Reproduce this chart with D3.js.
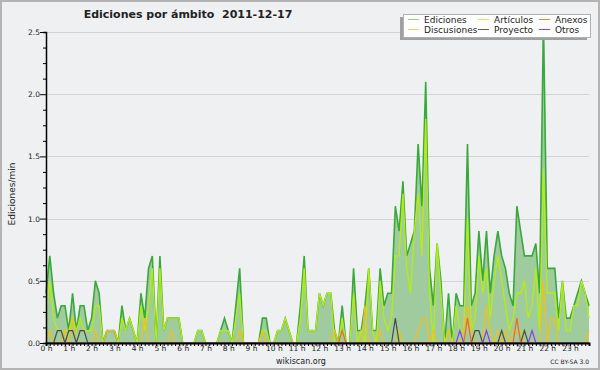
<!DOCTYPE html>
<html><head><meta charset="utf-8">
<script src="https://cdn.jsdelivr.net/npm/d3@7"></script>
<style>
html,body{margin:0;padding:0;background:#eff0f2;}
svg{display:block;}
text{font-family:"DejaVu Sans",sans-serif;fill:#222;}
</style></head>
<body>
<svg id="c" width="600" height="370"></svg>
<script>
// 10-minute slots, 0:00 .. 23:50
const hourLabels = d3.range(24).map(h => h + " h");
const ediciones = [0.4,0.7,0.4,0.2,0.3,0.3,0.1,0.4,0.1,0.3,0.3,0.1,0.2,0.5,0.4,0,0.1,0.1,0.1,0,
 0.3,0.1,0.2,0.1,0,0.4,0.2,0.6,0.7,0,0.7,0.1,0.2,0.2,0.2,0.2,0,0,0,0,
 0.1,0.1,0,0,0,0,0.1,0.2,0.1,0,0.3,0.6,0,0,0,0,0,0.2,0.2,0,
 0,0.1,0.1,0.2,0.1,0,0,0.3,0.7,0.1,0.1,0.1,0.4,0.3,0.4,0.4,0.1,0,0.3,0,
 0,0.6,0.1,0.1,0.3,0.6,0.1,0.1,0.6,0.3,0.4,0.4,1.1,0.9,1.3,0.7,0.8,0.9,1.6,1.1,
 2.1,0.6,0.3,0.8,0.5,0,0.4,0,0.4,0.3,0.3,1.6,0.3,0.4,0.9,0.5,0.9,0.4,0.7,0.9,
 0.7,0.6,0.4,0.3,1.1,0.9,0.7,0.7,0.7,0.8,0.4,2.6,0.6,0.6,0.6,0.2,0.5,0.2,0.2,0.3,
 0.4,0.5,0.4,0.3];
const articulos = [0.2,0.5,0.2,0.1,0.1,0.1,0.1,0.2,0.1,0.2,0.1,0.1,0.1,0.3,0.3,0,0,0,0,0,
 0.2,0.1,0.2,0.1,0,0.3,0.1,0.3,0.6,0,0.6,0.1,0.2,0.2,0.2,0.2,0,0,0,0,
 0.1,0.1,0,0,0,0,0.1,0.1,0.1,0,0.2,0.4,0,0,0,0,0,0.1,0.1,0,
 0,0.1,0.1,0.2,0.1,0,0,0.2,0.6,0.1,0.1,0.1,0.4,0.3,0.4,0.4,0,0,0.2,0,
 0,0.4,0,0.1,0,0.6,0.1,0,0.5,0.2,0.1,0.2,0.7,0.7,1.2,0.6,0.4,0.9,1.2,0.7,
 1.8,0.4,0,0.8,0.4,0,0.1,0,0.3,0.1,0.1,1.0,0.1,0.2,0.7,0.4,0.6,0.2,0.5,0.7,
 0.5,0.3,0.1,0.2,0.4,0.4,0.5,0.2,0.3,0.6,0.1,1.4,0.4,0.4,0.4,0.1,0.5,0.1,0.1,0.3,
 0.3,0.5,0.4,0.2];
const discusiones = [0,0.1,0,0,0,0.1,0,0.2,0,0,0,0,0,0.1,0,0,0.1,0.1,0.1,0,
 0,0,0,0,0,0,0.2,0,0,0,0,0,0,0.1,0,0,0,0,0,0,
 0,0,0,0,0,0,0,0,0,0,0,0.1,0,0,0,0,0,0.1,0,0,
 0,0,0,0,0,0,0,0,0,0,0,0,0,0,0,0,0.1,0,0,0,
 0,0,0,0,0.3,0,0,0,0.1,0,0,0,0,0.1,0,0,0,0,0.1,0.2,
 0.2,0,0.1,0,0,0,0.1,0,0,0,0.1,0.3,0.1,0,0,0,0.3,0.1,0,0.1,
 0,0.1,0,0.1,0.1,0.1,0,0,0,0,0,0.5,0,0.2,0.2,0,0,0,0,0,
 0,0,0,0.1];
const proyecto = [0,0,0,0.1,0.1,0,0.1,0.1,0,0.1,0.1,0,0,0,0,0,0,0,0,0,
 0,0,0,0,0,0,0,0,0,0,0,0,0,0,0,0,0,0,0,0,
 0,0,0,0,0,0,0,0,0,0,0,0,0,0,0,0,0,0,0,0,
 0,0,0,0,0,0,0,0,0,0,0,0,0,0,0,0,0,0,0,0,
 0,0,0,0,0,0,0,0,0,0,0,0,0.2,0,0,0,0,0,0,0,
 0,0,0,0,0,0,0,0,0,0,0,0,0,0.1,0.1,0,0,0,0,0,
 0.1,0,0,0,0,0,0.1,0,0,0,0,0,0,0,0,0,0,0,0,0,
 0,0,0,0];
const anexos = [0,0,0,0,0,0,0,0,0,0,0,0,0,0,0,0,0,0,0,0,
 0,0,0,0,0,0,0,0,0,0,0,0,0,0,0,0,0,0,0,0,
 0,0,0,0,0,0,0,0,0,0,0,0,0,0,0,0,0,0,0,0,
 0,0,0,0,0,0,0,0,0,0,0,0,0,0,0,0,0,0,0.1,0,
 0,0,0,0,0,0,0,0,0,0,0,0,0,0,0,0,0,0,0,0,
 0,0,0,0,0,0,0,0,0,0,0,0.2,0,0,0,0,0,0,0,0,
 0,0,0,0,0.2,0,0,0,0,0,0,0,0,0,0,0,0,0,0,0,
 0,0,0,0];
const otros = [0,0,0,0,0,0,0,0,0,0,0,0,0,0,0,0,0,0,0,0,
 0,0,0,0,0,0,0,0,0,0,0,0,0,0,0,0,0,0,0,0,
 0,0,0,0,0,0,0,0,0,0,0,0,0,0,0,0,0,0,0,0,
 0,0,0,0,0,0,0,0,0,0,0,0,0,0,0,0,0,0,0,0,
 0,0,0,0,0,0,0,0,0,0,0,0,0,0,0,0,0,0,0,0,
 0,0,0,0,0,0,0,0,0,0.1,0,0,0,0,0,0,0.1,0,0,0,
 0,0,0,0,0,0,0,0,0.1,0,0,0,0,0,0,0,0,0,0,0,
 0,0,0,0];
const yTicks = [0,0.5,1.0,1.5,2.0,2.5];

const svg = d3.select("#c");
const W = 600, H = 370;
const x = d3.scaleLinear().domain([0, ediciones.length - 1]).range([46, 589]);
const y = d3.scaleLinear().domain([0, 2.5]).range([343, 32]);

// page background + frame
svg.append("rect").attr("x",1).attr("y",1).attr("width",W-2).attr("height",H-2)
  .attr("fill","#eff0f2").attr("stroke","#b4b4b4").attr("stroke-width",2);

// grid
svg.append("g").selectAll("line").data(yTicks.filter(v=>v>0)).join("line")
  .attr("x1",46).attr("x2",589).attr("y1",d=>Math.round(y(d))+0.5).attr("y2",d=>Math.round(y(d))+0.5)
  .attr("stroke","#d2d3d5").attr("stroke-width",1);

// area
svg.append("path").datum(ediciones)
  .attr("d", d3.area().x((d,i)=>x(i)).y0(y(0)).y1(d=>y(d)))
  .attr("fill","#9fcb9f");

const line = d3.line().x((d,i)=>x(i)).y(d=>y(d));
const series = {
  "Ediciones":   {data:ediciones,   color:"#3aa83a", sw:"#8fd08f", w:1.6},
  "Artículos":   {data:articulos,   color:"#b4ee10", sw:"#c8f050", w:1.3},
  "Discusiones": {data:discusiones, color:"#f2c019", sw:"#f5d050", w:1.2},
  "Proyecto":    {data:proyecto,    color:"#4a4a4a", sw:"#606060", w:1.2},
  "Anexos":      {data:anexos,      color:"#f5661e", sw:"#f08040", w:1.2},
  "Otros":       {data:otros,       color:"#8a3cf0", sw:"#9040f0", w:1.2}
};
["Ediciones","Artículos","Discusiones","Proyecto","Anexos","Otros"].forEach(n=>{
  const s = series[n];
  svg.append("path").datum(s.data).attr("d",line)
    .attr("fill","none").attr("stroke",s.color).attr("stroke-width",s.w)
    .attr("stroke-linejoin","miter");
});

// x axis
const xa = svg.append("g").attr("transform","translate(0,343)")
  .call(d3.axisBottom(x).tickValues(d3.range(0, ediciones.length)).tickSizeOuter(0)
    .tickSize(3).tickFormat(i => i % 6 === 0 ? hourLabels[i/6] : ""));
xa.select(".domain").attr("stroke","#000").attr("stroke-width",2);
xa.selectAll(".tick line").attr("stroke","#000").attr("y1",1);
xa.selectAll(".tick text").attr("font-size","7.5px").attr("font-family","DejaVu Sans").attr("fill","#333").attr("dy","0.55em").attr("y",4);

// y axis
const ya = svg.append("g").attr("transform","translate(46,0)")
  .call(d3.axisLeft(y).tickValues(d3.range(0, 21).map(k=>k*0.125)).tickSizeOuter(0)
    .tickSize(3).tickFormat(v => (Math.abs(v*2 - Math.round(v*2))<1e-6) ? d3.format(".1f")(v) : ""));
ya.select(".domain").attr("stroke","#000").attr("stroke-width",1.5);
ya.selectAll(".tick line").attr("stroke","#000")
  .attr("x2", d => (Math.abs(d*2 - Math.round(d*2))<1e-6) ? -6 : -3);
ya.selectAll(".tick text").attr("font-size","7.5px").attr("font-family","DejaVu Sans").attr("fill","#333").attr("x",-6);

// titles
svg.append("text").attr("x",188).attr("y",18).attr("text-anchor","middle")
  .attr("font-family","DejaVu Sans").attr("font-weight","bold").attr("font-size","11px")
  .attr("fill","#111").attr("xml:space","preserve").text("Ediciones por ámbito  2011-12-17");
svg.append("text").attr("transform","translate(15,194) rotate(-90)").attr("text-anchor","middle")
  .attr("font-family","DejaVu Sans Mono").attr("font-size","9px").attr("fill","#222").text("Ediciones/min");
svg.append("text").attr("x",301).attr("y",364).attr("text-anchor","middle")
  .attr("font-size","8px").attr("fill","#333").text("wikiscan.org");
svg.append("text").attr("x",589).attr("y",364).attr("text-anchor","end")
  .attr("font-size","6px").attr("fill","#333").text("CC BY-SA 3.0");

// legend
const lg = svg.append("g");
lg.append("rect").attr("x",400).attr("y",17).attr("width",187).attr("height",23).attr("fill","#a0a0a0");
lg.append("rect").attr("x",403.5).attr("y",14.5).attr("width",187).attr("height",23)
  .attr("fill","#fff").attr("stroke","#b0b0b0").attr("stroke-width",1);
const legendLayout = [
  ["Ediciones",0,0],["Discusiones",0,1],
  ["Artículos",1,0],["Proyecto",1,1],
  ["Anexos",2,0],["Otros",2,1]
];
const colX = [408, 478, 539];
legendLayout.forEach(([name,col,row])=>{
  const lx = colX[col], ly = row ? 29 : 19;
  lg.append("line").attr("x1",lx).attr("x2",lx+11).attr("y1",ly+0.5).attr("y2",ly+0.5)
    .attr("stroke",series[name].sw).attr("stroke-width",1);
  lg.append("text").attr("x",lx+16).attr("y",ly+3.5).attr("font-size","9px").attr("fill","#222").text(name);
});
</script>
</body></html>
